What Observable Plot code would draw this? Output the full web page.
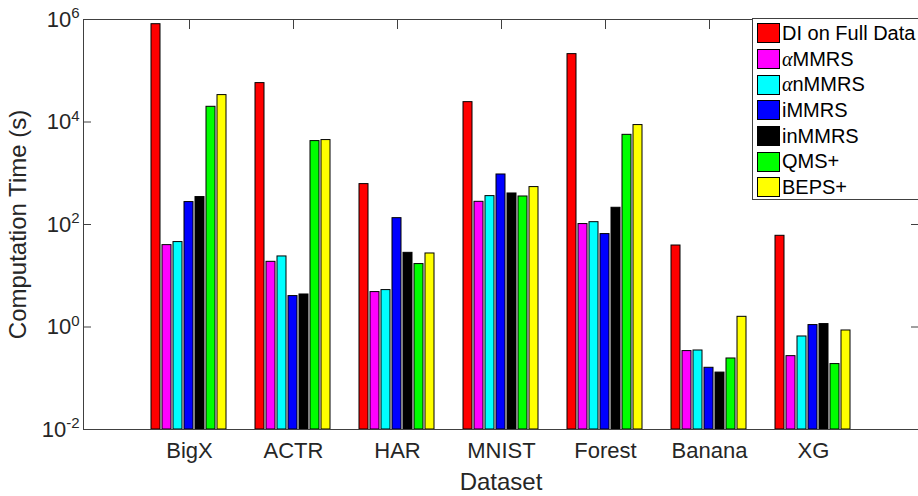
<!DOCTYPE html>
<html>
<head>
<meta charset="utf-8">
<script src="https://cdn.jsdelivr.net/npm/d3@7"></script>
<script src="https://cdn.jsdelivr.net/npm/@observablehq/plot@0.6"></script>
<style>
  html, body { margin: 0; padding: 0; background: #fff; overflow: hidden; }
  #wrap { position: relative; width: 918px; height: 496px; overflow: hidden;
          font-family: "Liberation Sans", Arial, sans-serif; color: #262626; }
  #wrap svg { position: absolute; left: 0; top: 0; }
  #legend { position: absolute; left: 752px; top: 18px; width: 180px; height: 182px;
            box-sizing: border-box; border: 1px solid #404040; background: #fff; padding-top: 1.5px; }
  .row { height: 25.7px; display: flex; align-items: center; font-size: 20px; color: #000; white-space: nowrap; }
  .sw { width: 21px; height: 18px; border: 1px solid #000; margin-left: 4px; margin-right: 2px; flex: none; }
  .greek { font-family: "Liberation Serif", "DejaVu Serif", serif; font-style: italic; }
</style>
</head>
<body>
<div id="wrap"><div id="legend"></div></div>
<script>
// ---- data ----
const datasets = ["BigX", "ACTR", "HAR", "MNIST", "Forest", "Banana", "XG"];
const methods = ["DI on Full Data", "αMMRS", "αnMMRS", "iMMRS", "inMMRS", "QMS+", "BEPS+"];
const colors = ["#ff0000", "#ff00ff", "#00ffff", "#0000ff", "#000000", "#00ff00", "#ffff00"];
const diFull = [8.1e5, 5.74e4, 614, 2.44e4, 2.11e5, 38.9, 60.2];
const aMMRS  = [39.6, 18.7, 4.80, 277, 102, 0.339, 0.270];
const anMMRS = [45.4, 23.8, 5.25, 358, 111, 0.348, 0.653];
const iMMRS  = [274, 4.01, 133, 946, 65, 0.160, 1.09];
const inMMRS = [343, 4.31, 28, 403, 212, 0.129, 1.14];
const qmsPlus  = [19800, 4240, 16.9, 352, 5620, 0.243, 0.189];
const bepsPlus = [33500, 4440, 27.2, 537, 8710, 1.58, 0.855];
const yDomain = [1e-2, 1e6];
const yTicks = [1e-2, 1e0, 1e2, 1e4, 1e6];
const yTickExponents = ["-2", "0", "2", "4", "6"];

const series = [diFull, aMMRS, anMMRS, iMMRS, inMMRS, qmsPlus, bepsPlus];
const rows = [];
datasets.forEach((d, i) => methods.forEach((m, j) => rows.push({dataset: d, method: m, value: series[j][i]})));

const layout = {width: 918, height: 496, marginLeft: 83, marginRight: 0, marginTop: 19, marginBottom: 67};
const font = {fontFamily: "'Liberation Sans', Arial, sans-serif", color: "#262626", background: "transparent"};

// bars layer (grouped with fx facets)
const bars = Plot.plot({
  ...layout,
  style: font,
  fx: {domain: datasets, paddingInner: 0.22, paddingOuter: 0.61, axis: null},
  x: {domain: methods, paddingInner: 0.14, paddingOuter: 0, axis: null},
  y: {type: "log", domain: yDomain, axis: null},
  color: {domain: methods, range: colors},
  marks: [
    Plot.barY(rows, {fx: "dataset", x: "method", y1: yDomain[0], y2: "value", fill: "method", stroke: "#000", strokeWidth: 1})
  ]
});

// axes layer (frame, ticks, labels) drawn over the bars
const axes = Plot.plot({
  ...layout,
  style: font,
  x: {type: "band", domain: datasets, paddingInner: 0, paddingOuter: 0.5},
  y: {type: "log", domain: yDomain},
  marks: [
    Plot.frame({stroke: "#404040", strokeWidth: 1}),
    Plot.axisX({anchor: "bottom", tickSize: 0, tickPadding: 13, fontSize: 22, label: null}),
    Plot.axisX({anchor: "bottom", ticks: [], tickSize: 0, fontSize: 24, label: "Dataset", labelAnchor: "center", labelOffset: 60, labelArrow: "none"}),
    Plot.axisX({anchor: "top", tickSize: -9, tickFormat: () => "", label: null, stroke: "#404040"}),
    Plot.axisY({anchor: "left", ticks: yTicks, tickSize: -8, tickPadding: 12, fontSize: 22,
                tickFormat: (d) => "10^" + yTickExponents[yTicks.indexOf(d)], label: null, stroke: "#404040"}),
    Plot.axisY({anchor: "left", ticks: [], tickSize: 0, fontSize: 24,
                label: "Computation Time (s)", labelAnchor: "center", labelOffset: 75, labelArrow: "none"}),
    Plot.axisY({anchor: "right", ticks: yTicks, tickSize: -8, tickFormat: () => "", label: null, stroke: "#404040"})
  ]
});

const wrap = document.getElementById("wrap");
const legendDiv = document.getElementById("legend");
wrap.insertBefore(bars, legendDiv);
wrap.insertBefore(axes, legendDiv);

// superscript exponents on y tick labels
axes.querySelectorAll("text").forEach((t) => {
  const m = /^10\^(-?\d+)$/.exec(t.textContent);
  if (m) {
    t.textContent = "10";
    const ts = document.createElementNS("http://www.w3.org/2000/svg", "tspan");
    ts.setAttribute("font-size", "15");
    ts.setAttribute("dy", "-0.55em");
    ts.textContent = m[1];
    t.appendChild(ts);
  }
});

// legend
methods.forEach((m, j) => {
  const row = document.createElement("div");
  row.className = "row";
  const sw = document.createElement("div");
  sw.className = "sw";
  sw.style.background = colors[j];
  row.appendChild(sw);
  const lab = document.createElement("span");
  if (m.startsWith("α")) {
    const g = document.createElement("span");
    g.className = "greek";
    g.textContent = "α";
    lab.appendChild(g);
    lab.appendChild(document.createTextNode(m.slice(1)));
  } else {
    lab.textContent = m;
  }
  row.appendChild(lab);
  legendDiv.appendChild(row);
});
</script>
</body>
</html>
